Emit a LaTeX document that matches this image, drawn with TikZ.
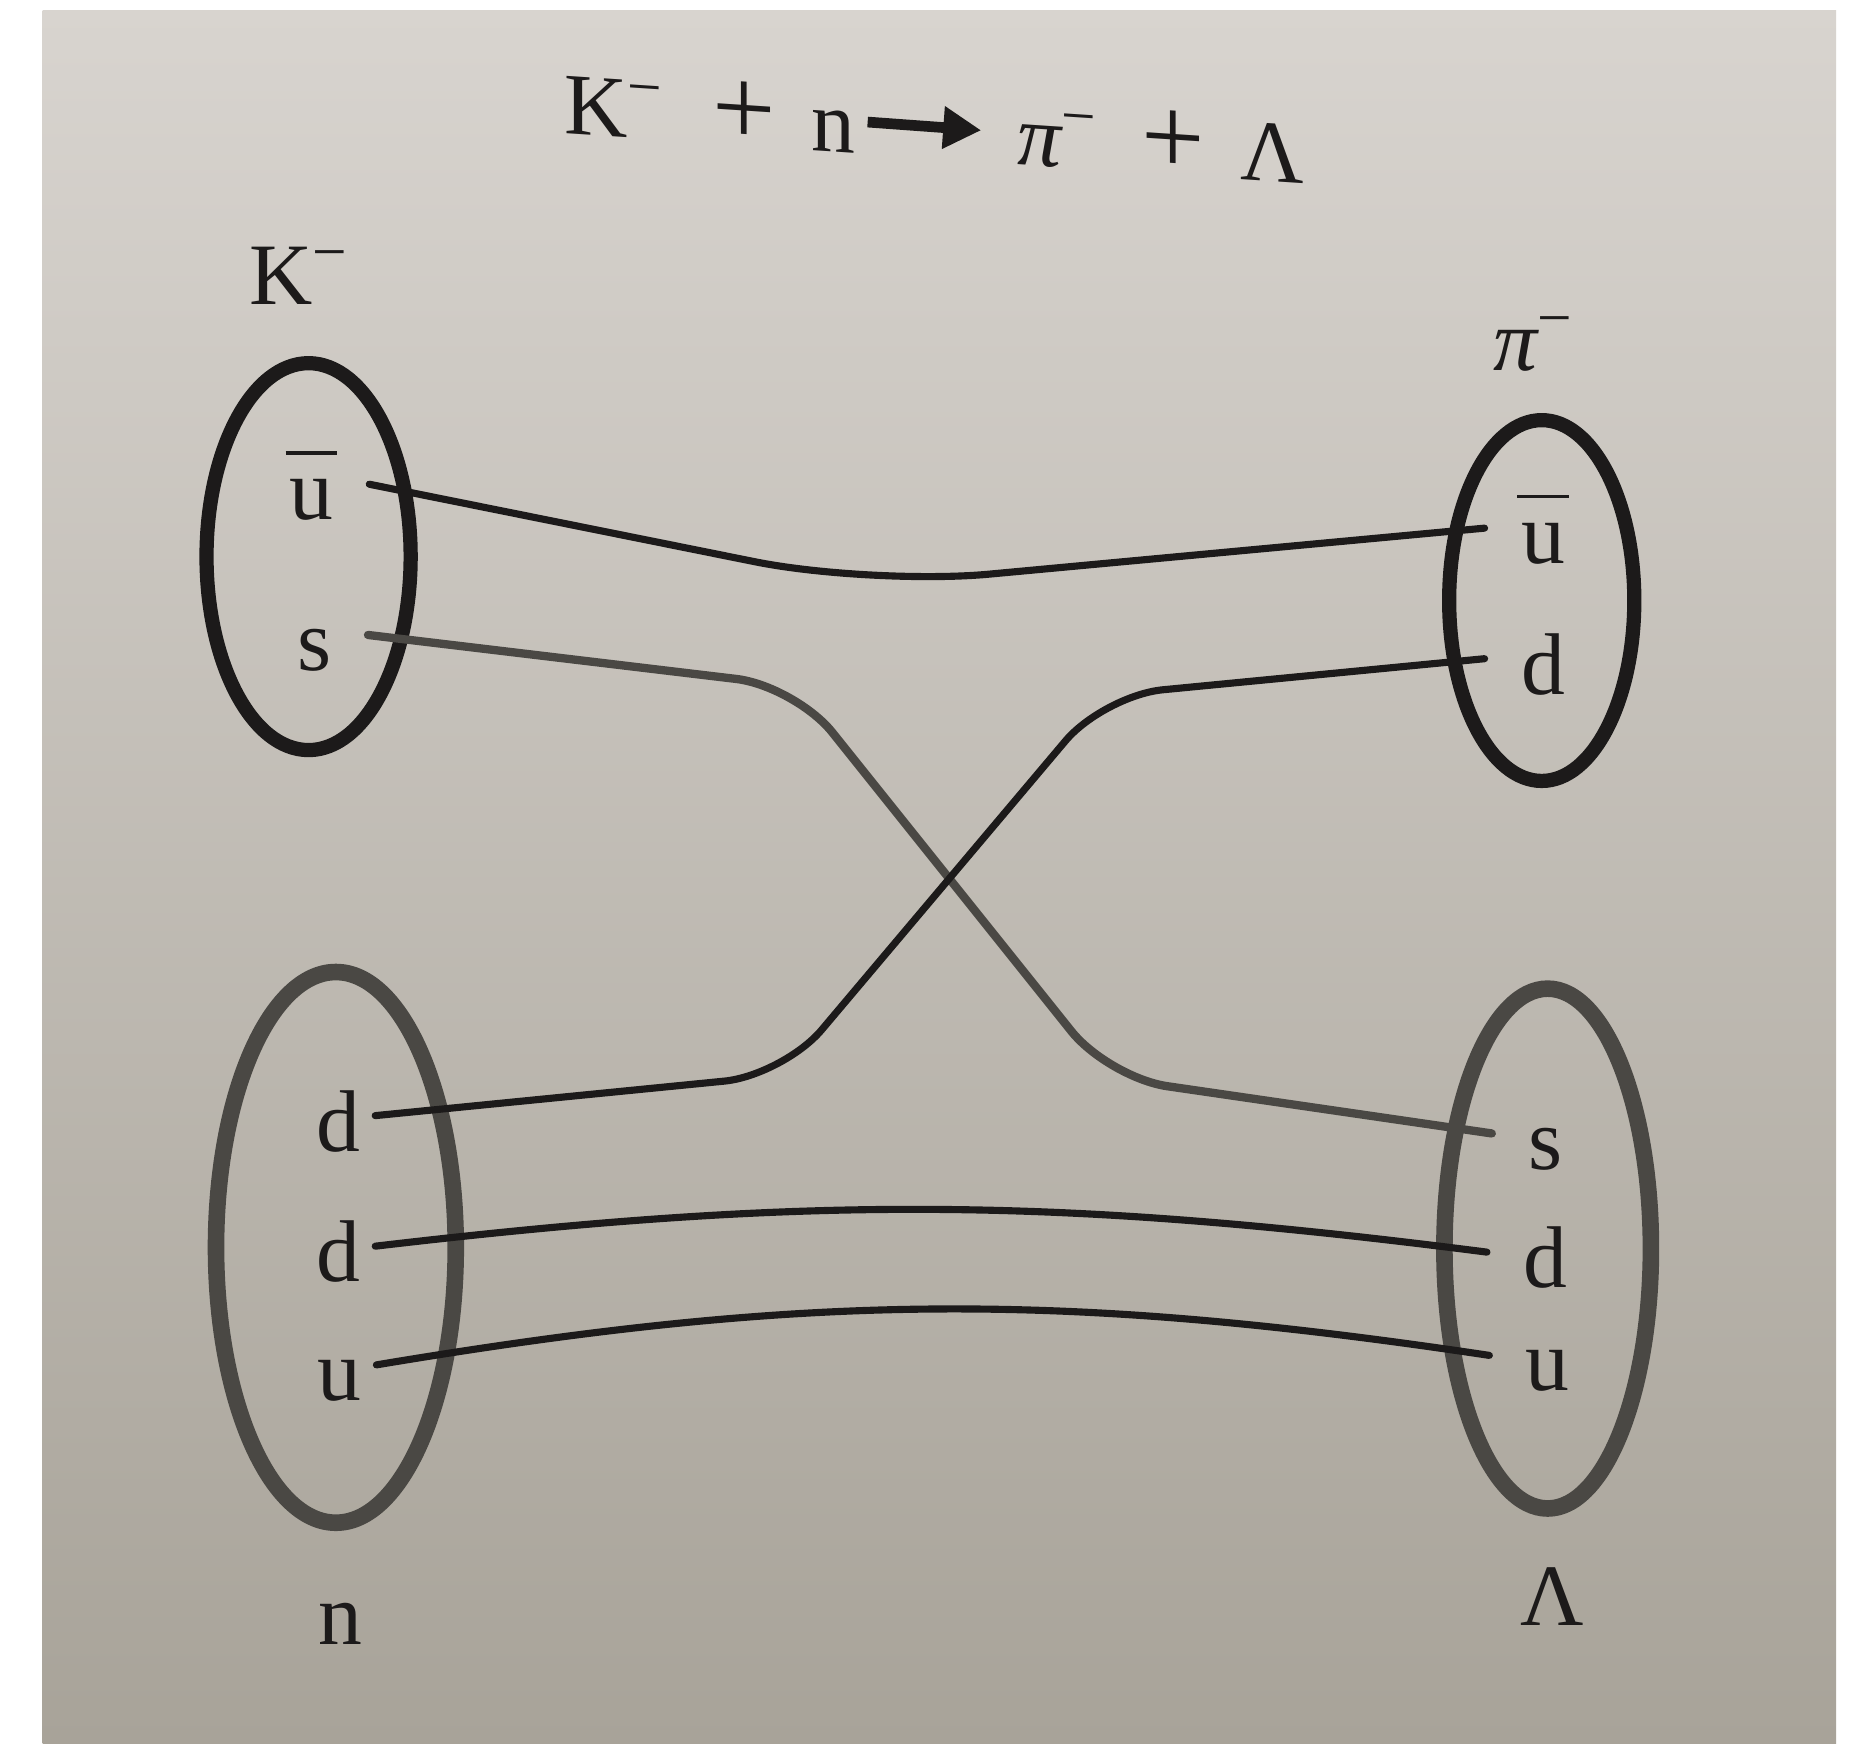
\documentclass[tikz,border=0pt]{standalone}
\usepackage{fontspec}
\setmainfont{Liberation Serif}
\usetikzlibrary{calc, arrows.meta}

\definecolor{ink}{RGB}{28,26,26}
\definecolor{inkgray}{RGB}{74,72,68}
\definecolor{papertop}{RGB}{216,212,207}
\definecolor{papermid}{RGB}{198,194,187}
\definecolor{paperbot}{RGB}{168,163,153}

% u with a bar, as printed
\newcommand{\ubar}{\makebox[0pt][l]{\hspace{-0.3mm}\raisebox{5.5mm}{\rule{4.3mm}{0.28mm}}}u}
% larger plus of the reaction line
\newcommand{\bigplus}{{\fontsize{27}{30}\selectfont +}}

\tikzset{
  txt/.style={font=\fontsize{21}{25}\selectfont, text=ink, inner sep=0pt},
  tilted/.style={txt, yslant=-0.066, transform shape},
  quark/.style={txt, text height=6mm, text depth=0pt, inner xsep=3mm, anchor=base},
  bag/.style={line width=1.2mm, draw=ink},
  graybag/.style={line width=1.4mm, draw=inkgray},
  flow/.style={line width=0.6mm, draw=ink, line cap=round},
  grayflow/.style={flow, line width=0.7mm, draw=inkgray},
}

\begin{document}
\begin{tikzpicture}[x=0.1mm, y=-0.1mm]
  % Paper
  \fill[white] (0,0) rectangle (1568,1469);
  \shade[top color=papertop, middle color=papermid, bottom color=paperbot]
    (36,8.5) rectangle (1547,1469);
  \useasboundingbox (0,0) rectangle (1568,1469);

  % Reaction
  \node[tilted] (lhs) at (598,94)
    {K\textsuperscript{−}\hspace{0.55em}\bigplus\hspace{0.4em}n};
  \node[tilted] (rhs) at (978,120)
    {{\itshape π}\textsuperscript{−}\hspace{0.5em}\bigplus\hspace{0.4em}Λ};
  \draw[line width=0.9mm, draw=ink, shorten <=1mm, shorten >=3mm,
    -{Triangle[length=3.2mm, width=3.4mm]}] (lhs.east) -- (rhs.west);

  % Hadrons
  \draw[bag] (260,469) ellipse (86 and 163);
  \draw[bag] (1299,506) ellipse (78 and 152);
  \draw[graybag] (283,1051) ellipse (101 and 232);
  \draw[graybag] (1304,1052) ellipse (87 and 219);

  \node[txt] (K) at (252,232) {K\textsuperscript{−}};
  \node[txt] (P) at (1292,290) {{\itshape π}\textsuperscript{−}};
  \node[txt] (N) at (287,1368) {n};
  \node[txt] (L) at (1308,1345) {Λ};

  % Quarks
  \node[quark] (Kub) at (262,438) {\ubar};
  \node[quark] (Ks) at (265,565) {s};
  \node[quark] (Pub) at (1300,475) {\ubar};
  \node[quark] (Pd) at (1300,585) {d};
  \node[quark, inner xsep=1.2mm] (Nd1) at (285,970) {d};
  \node[quark, inner xsep=1.2mm] (Nd2) at (285,1080) {d};
  \node[quark, inner xsep=1.2mm] (Nu) at (286,1180) {u};
  \node[quark] (Ls) at (1302,985) {s};
  \node[quark] (Ld) at (1302,1085) {d};
  \node[quark] (Lu) at (1304,1172) {u};

  % Quark lines
  \draw[flow, rounded corners=10mm] (Kub.east) -- (734,493) -- (Pub.west);
  \draw[grayflow, rounded corners=5mm] (Ks.east) -- (670,578) -- (934,908) -- (Ls.west);
  \draw[flow, rounded corners=5mm] (Pd.west) -- (930,586) -- (660,906) -- (Nd1.east);
  \draw[flow] (Nd2.east) to[bend left=7] (Ld.west);
  \draw[flow] (Nu.east) to[bend left=9] (Lu.west);
\end{tikzpicture}
\end{document}
